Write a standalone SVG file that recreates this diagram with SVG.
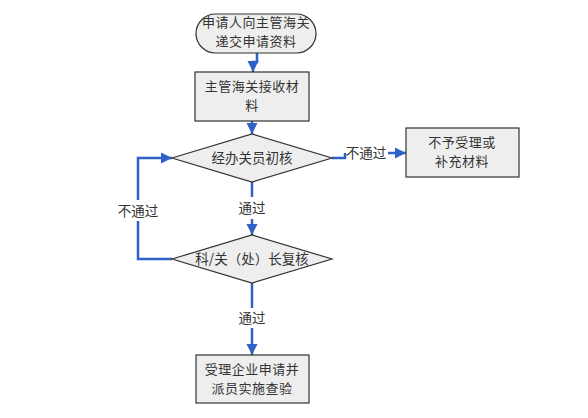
<svg xmlns="http://www.w3.org/2000/svg" width="588" height="418" viewBox="0 0 588 418">
<defs>
<style>
.shape{fill:#eeeeee;stroke:#333333;stroke-width:1.2}
.t{font-family:"Noto Sans CJK SC","Liberation Sans",sans-serif;font-size:13.5px;fill:#333333;text-anchor:middle}
.m{font-size:13px;letter-spacing:0.5px}
.c{fill:none;stroke:#2f62c6;stroke-width:2.5}
</style>
<marker id="ah" markerUnits="userSpaceOnUse" markerWidth="12" markerHeight="12" refX="11" refY="6" orient="auto">
<path d="M0,0.5 L11,6 L0,11.5 Z" fill="#2f62c6"/>
</marker>
</defs>
<rect width="588" height="418" fill="#ffffff"/>
<g id="connectors">
<path class="c" d="M257,53 V62 H253 V72" marker-end="url(#ah)"/>
<path class="c" d="M252,121 V134" marker-end="url(#ah)"/>
<path class="c" d="M332,158 H345 V153"/>
<path class="c" d="M388,153 H406" marker-end="url(#ah)"/>
<path class="c" d="M252,182 V197"/>
<path class="c" d="M252,219 V235" marker-end="url(#ah)"/>
<path class="c" d="M172,259 H138 V221"/>
<path class="c" d="M138,200 V158 H172" marker-end="url(#ah)"/>
<path class="c" d="M252,283 V308"/>
<path class="c" d="M252,328 V355" marker-end="url(#ah)"/>
<text class="t" x="366" y="158">不通过</text>
<text class="t" x="252" y="213">通过</text>
<text class="t" x="138" y="216">不通过</text>
<text class="t" x="252" y="323">通过</text>
</g>
<g id="start">
<rect class="shape" x="196" y="14" width="120" height="39" rx="19.5" ry="19.5"/>
<text class="t m" x="256" y="27">申请人向主管海关</text>
<text class="t m" x="256" y="46">递交申请资料</text>
</g>
<g id="receive">
<rect class="shape" x="195" y="72" width="114" height="49"/>
<text class="t m" x="252" y="91">主管海关接收材</text>
<text class="t m" x="252" y="110">料</text>
</g>
<g id="check1">
<polygon class="shape" points="172,158 252,134 332,158 252,182"/>
<text class="t" x="252" y="163">经办关员初核</text>
</g>
<g id="reject">
<rect class="shape" x="406" y="128" width="113" height="49"/>
<text class="t m" x="462" y="147">不予受理或</text>
<text class="t m" x="462" y="166">补充材料</text>
</g>
<g id="check2">
<polygon class="shape" points="172,259 252,235 332,259 252,283"/>
<text class="t" x="252" y="264">科/关（处）长复核</text>
</g>
<g id="accept">
<rect class="shape" x="196" y="355" width="113" height="48"/>
<text class="t m" x="252" y="374">受理企业申请并</text>
<text class="t m" x="252" y="393">派员实施查验</text>
</g>
</svg>
